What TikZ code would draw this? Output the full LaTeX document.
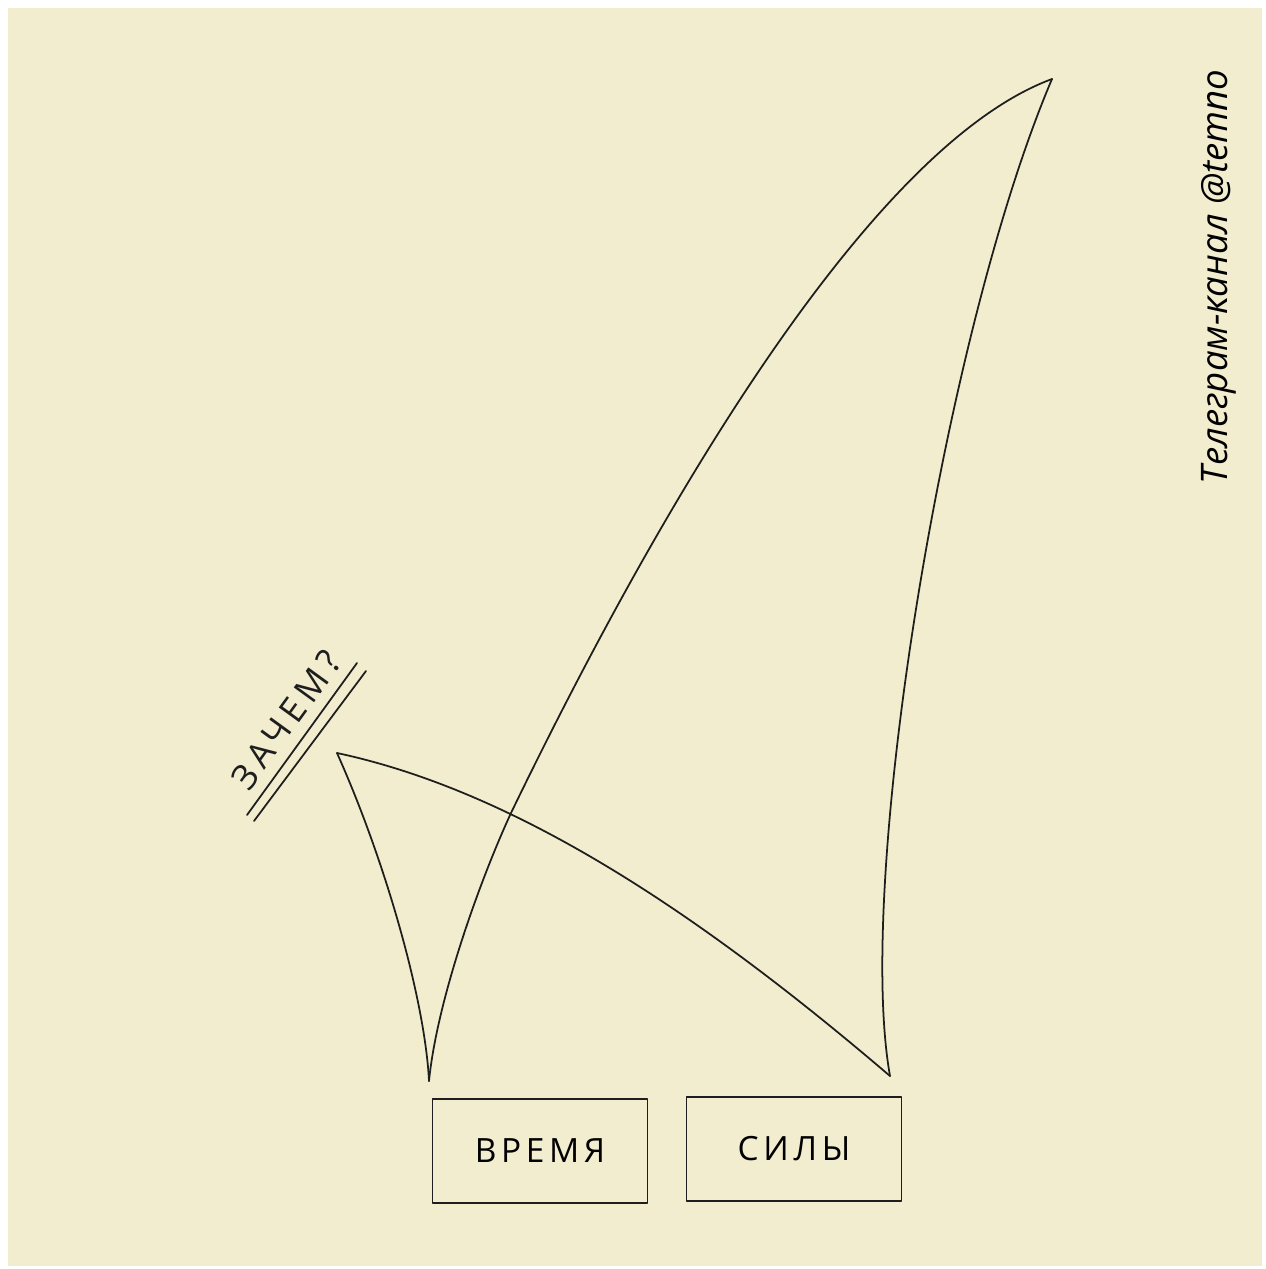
\documentclass[tikz,border=0pt]{standalone}
\usepackage{fontspec}
\setmainfont{Open Sans}
\usepackage{xcolor}
\usepackage{tikz}
\usetikzlibrary{positioning}
\definecolor{paper}{RGB}{242,237,206}
\definecolor{ink}{RGB}{30,30,30}

\begin{document}
\begin{tikzpicture}[
  x=0.01cm, y=-0.01cm,
  pen/.style={draw=ink, line width=0.5pt, line join=round, line cap=round},
  card/.style={pen, rectangle, minimum width=2.15cm, minimum height=1.04cm,
               inner sep=0pt, font=\fontsize{9.5}{11}\selectfont\addfontfeatures{LetterSpace=14}},
  scrawl/.style={text=ink, inner sep=0pt,
                 font=\fontsize{10}{12}\selectfont\addfontfeatures{LetterSpace=16}},
  tag/.style={text=black, inner sep=0pt, font=\fontsize{10.4}{12}\selectfont\itshape},
]
%% Page
\useasboundingbox (0,0) rectangle (1266,1269);
\fill[paper] (8,8) rectangle (1262,1266);
%% Corners of the sails
\coordinate (foot)  at (429,1081);
\coordinate (clew)  at (890,1076);
\coordinate (head)  at (1052,79);
\coordinate (peak)  at (337,753);
\coordinate (cross) at (511,813);
%% Big sail
\draw[pen] (foot) .. controls (437,1000) and (480,880) .. (cross)
                  .. controls (640,546) and (860,150) .. (head);
\draw[pen] (head) .. controls (945,330) and (855,880) .. (clew);
%% Small sail
\draw[pen] (peak) .. controls (510,790) and (690,905) .. (clew);
\draw[pen] (peak) .. controls (385,860) and (425,1000) .. (foot);
%% Question with double underline
\node[scrawl, rotate=54] (why) at (286,720) {ЗАЧЕМ?};
\coordinate (u1a) at (247,815); \coordinate (u1b) at (357,663);
\coordinate (u2a) at (254,821); \coordinate (u2b) at (366,671);
\draw[pen] (u1a) -- (u1b);
\draw[pen] (u2a) -- (u2b);
%% Boxes under the sails
\node[card] (time)  at (540,1151) {ВРЕМЯ};
\node[card] (force) at (794,1149) {СИЛЫ};
%% Channel mark
\node[tag, rotate=90] (channel) at (1219,277) {Телеграм-канал @temno};
\end{tikzpicture}
\end{document}
